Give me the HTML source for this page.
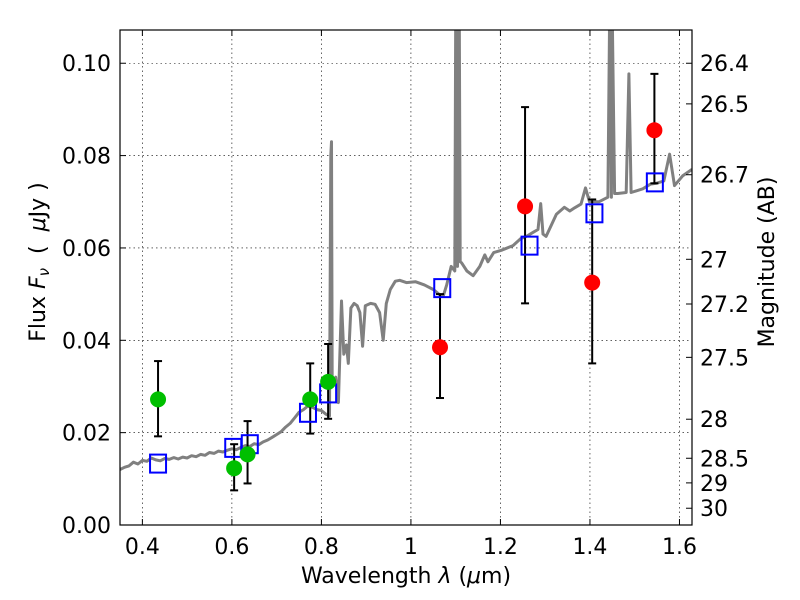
<!DOCTYPE html>
<html><head><meta charset="utf-8"><style>
html,body{margin:0;padding:0;background:#fff;}
svg{display:block;font-family:"DejaVu Sans","Liberation Sans",sans-serif;}
</style></head><body>
<svg id="chart" width="800" height="600"></svg>
<script>
const xTicks=[0.4,0.6,0.8,1.0,1.2,1.4,1.6];
const xTickLabels=["0.4","0.6","0.8","1","1.2","1.4","1.6"];
const yTicks=[0,0.02,0.04,0.06,0.08,0.10];
const yTickLabels=["0.00","0.02","0.04","0.06","0.08","0.10"];
const magTicks=[26.4,26.5,26.7,27,27.2,27.5,28,28.5,29,30];
const magLabels=["26.4","26.5","26.7","27","27.2","27.5","28","28.5","29","30"];
const sedWave=[0.35,0.36,0.37,0.38,0.39,0.40,0.41,0.42,0.43,0.44,0.45,0.46,0.47,0.48,0.49,0.50,0.51,0.52,0.53,0.54,0.55,0.56,0.57,0.58,0.59,0.60,0.61,0.62,0.63,0.64,0.65,0.66,0.67,0.68,0.69,0.70,0.71,0.72,0.73,0.74,0.75,0.76,0.77,0.78,0.79,0.80,0.81,0.818,0.821,0.8225,0.824,0.832,0.838,0.845,0.85,0.856,0.86,0.866,0.873,0.88,0.886,0.892,0.898,0.91,0.92,0.93,0.938,0.945,0.954,0.965,0.975,0.99,1.01,1.03,1.05,1.065,1.072,1.08,1.09,1.098,1.100,1.102,1.104,1.106,1.108,1.110,1.113,1.115,1.125,1.139,1.154,1.165,1.172,1.185,1.202,1.228,1.245,1.258,1.275,1.284,1.290,1.295,1.302,1.325,1.343,1.355,1.366,1.380,1.390,1.399,1.42,1.440,1.444,1.446,1.448,1.450,1.455,1.462,1.481,1.487,1.492,1.518,1.535,1.548,1.565,1.578,1.589,1.607,1.628];
const sedFlux=[0.0120,0.0125,0.0128,0.0136,0.0132,0.0140,0.0138,0.0145,0.0141,0.0139,0.0144,0.0142,0.0146,0.0143,0.0147,0.0145,0.0150,0.0148,0.0153,0.0151,0.0157,0.0155,0.0160,0.0158,0.0162,0.0165,0.0163,0.0168,0.0172,0.0170,0.0176,0.0174,0.0180,0.0184,0.0190,0.0196,0.0202,0.0212,0.0220,0.0232,0.0244,0.0250,0.0258,0.0255,0.0250,0.0248,0.0240,0.0236,0.08,0.083,0.030,0.032,0.0265,0.0485,0.037,0.039,0.035,0.047,0.048,0.0475,0.046,0.0387,0.0475,0.048,0.0478,0.046,0.040,0.048,0.051,0.0528,0.053,0.0525,0.0527,0.052,0.051,0.0498,0.0495,0.052,0.056,0.055,0.11,0.11,0.056,0.11,0.11,0.057,0.0568,0.0565,0.055,0.054,0.056,0.0585,0.057,0.059,0.0595,0.0605,0.062,0.0625,0.0635,0.064,0.0696,0.063,0.0625,0.0673,0.0688,0.068,0.0687,0.0695,0.073,0.070,0.070,0.071,0.11,0.11,0.071,0.11,0.0718,0.0718,0.072,0.0977,0.072,0.0728,0.0738,0.074,0.0745,0.0803,0.0735,0.0756,0.077];
const greenWave=[0.435,0.605,0.635,0.775,0.815];
const greenFlux=[0.0272,0.0123,0.0153,0.0272,0.0310];
const greenLo=[0.0192,0.0075,0.0090,0.0198,0.0230];
const greenHi=[0.0355,0.0175,0.0225,0.0350,0.0392];
const redWave=[1.065,1.255,1.405,1.544];
const redFlux=[0.0385,0.0690,0.0525,0.0855];
const redLo=[0.0275,0.0480,0.0350,0.0740];
const redHi=[0.0500,0.0905,0.0705,0.0977];
const blueWave=[0.435,0.603,0.640,0.770,0.815,1.070,1.265,1.410,1.545];
const blueFlux=[0.0133,0.0167,0.0175,0.0243,0.0285,0.0513,0.0605,0.0675,0.0742];

const L=120,R=692,T=30,B=525;
const xMin=0.35,xMax=1.628,yMin=0,yMax=0.1072;
const X=v=>L+(v-xMin)/(xMax-xMin)*(R-L);
const Y=v=>B-(v-yMin)/(yMax-yMin)*(B-T);
const magToFlux=m=>Math.pow(10,(23.9-m)/2.5);
const NS="http://www.w3.org/2000/svg";
const svg=document.getElementById('chart');
function mk(tag,attrs,parent){const e=document.createElementNS(NS,tag);for(const k in attrs)e.setAttribute(k,attrs[k]);(parent||svg).appendChild(e);return e;}

const clip=mk('clipPath',{id:'pc'});mk('rect',{x:L,y:T,width:R-L,height:B-T},clip);

const grid=mk('g',{});


xTicks.forEach(t=>{mk('line',{x1:X(t),x2:X(t),y1:T,y2:B,stroke:'#000','stroke-width':0.6,'stroke-dasharray':'1.5,3'},grid);});
yTicks.forEach(t=>{mk('line',{x1:L,x2:R,y1:Y(t),y2:Y(t),stroke:'#000','stroke-width':0.6,'stroke-dasharray':'1.5,3'},grid);});

const d=sedWave.map((w,i)=>(i?'L':'M')+X(w).toFixed(1)+','+Y(sedFlux[i]).toFixed(1)).join(' ');
const sed=mk('path',{d:d,fill:'none',stroke:'#808080','stroke-width':3,'clip-path':'url(#pc)','stroke-linejoin':'round'});



function errbars(ws,lo,hi,name){
  const g=mk('g',{});
  
  
  ws.forEach((w,i)=>{const x=X(w);
    mk('line',{x1:x,x2:x,y1:Y(lo[i]),y2:Y(hi[i]),stroke:'#000','stroke-width':2},g);
    mk('line',{x1:x-4,x2:x+4,y1:Y(lo[i]),y2:Y(lo[i]),stroke:'#000','stroke-width':2},g);
    mk('line',{x1:x-4,x2:x+4,y1:Y(hi[i]),y2:Y(hi[i]),stroke:'#000','stroke-width':2},g);});
}
errbars(greenWave,greenLo,greenHi,'green-error-bars');
errbars(redWave,redLo,redHi,'red-error-bars');

blueWave.forEach((w,i)=>{
  const r=mk('rect',{x:X(w)-8,y:Y(blueFlux[i])-9,width:16,height:18,fill:'none',stroke:'#0000ff','stroke-width':2});
  
  
});
greenWave.forEach((w,i)=>{
  const c=mk('circle',{cx:X(w),cy:Y(greenFlux[i]),r:8,fill:'#00bf00'});
  
  
});
redWave.forEach((w,i)=>{
  const c=mk('circle',{cx:X(w),cy:Y(redFlux[i]),r:8,fill:'#ff0000'});
  
  
});

const frame=mk('rect',{x:L,y:T,width:R-L,height:B-T,fill:'none',stroke:'#000','stroke-width':1.2});



xTicks.forEach((t,i)=>{
  mk('line',{x1:X(t),x2:X(t),y1:B,y2:B-6,stroke:'#000'});
  mk('line',{x1:X(t),x2:X(t),y1:T,y2:T+6,stroke:'#000'});
  const tx=mk('text',{x:X(t),y:B+29,'font-size':22,'text-anchor':'middle'});
  tx.textContent=xTickLabels[i];
  
  
});
yTicks.forEach((t,i)=>{
  mk('line',{x1:L,x2:L+6,y1:Y(t),y2:Y(t),stroke:'#000'});
  const tx=mk('text',{x:L-9,y:Y(t)+8,'font-size':22,'text-anchor':'end'});
  tx.textContent=yTickLabels[i];
  
  
});
magTicks.forEach((m,i)=>{
  const y=Y(magToFlux(m));
  mk('line',{x1:R,x2:R-6,y1:y,y2:y,stroke:'#000'});
  const tx=mk('text',{x:R+8,y:y+8,'font-size':22});
  tx.textContent=magLabels[i];
  
  
});

const xl=mk('text',{x:406,y:583,'font-size':22,'text-anchor':'middle'});
xl.innerHTML='Wavelength  <tspan font-style="italic">λ</tspan> (<tspan font-style="italic">μ</tspan>m)';


const yl=mk('text',{x:0,y:0,'font-size':22,'text-anchor':'middle',transform:'translate(45,262) rotate(-90)'});
yl.innerHTML='Flux  <tspan font-style="italic">F</tspan><tspan font-style="italic" font-size="15" dy="4">ν</tspan><tspan dy="-4" xml:space="preserve">  (  </tspan><tspan font-style="italic">μ</tspan>Jy )';


const ml=mk('text',{x:0,y:0,'font-size':22,'text-anchor':'middle',transform:'translate(774,262) rotate(-90)'});
ml.textContent='Magnitude (AB)';


</script>
</body></html>
